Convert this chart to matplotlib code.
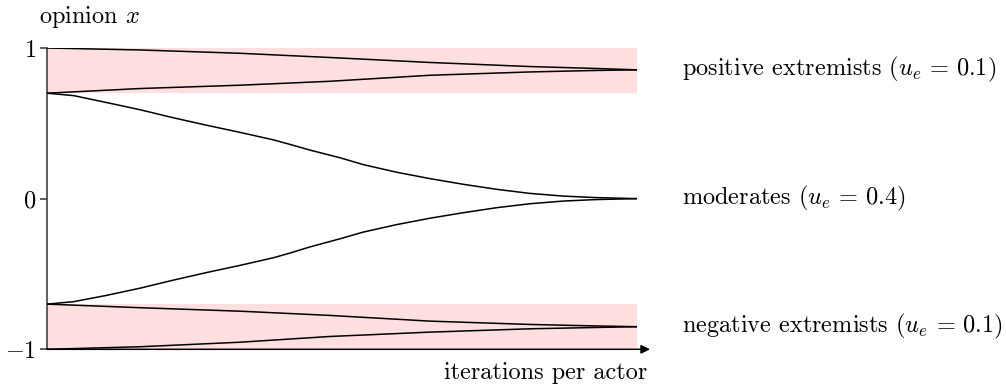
import numpy as np
import matplotlib
matplotlib.use("Agg")
import matplotlib.pyplot as plt

plt.rcParams["font.family"] = "serif"
plt.rcParams["font.serif"] = ["cmr10", "DejaVu Serif"]
plt.rcParams["mathtext.fontset"] = "cm"
plt.rcParams["axes.formatter.use_mathtext"] = True

# temps normalisé (itérations par acteur, échelle arbitraire)
t_mod = [0.0, 0.045, 0.101, 0.158, 0.214, 0.271, 0.327, 0.384, 0.412, 0.446,
         0.497, 0.536, 0.593, 0.649, 0.706, 0.762, 0.818, 0.875, 0.931, 1.0]
mod_hi = [0.70, 0.684, 0.638, 0.590, 0.537, 0.487, 0.440, 0.390, 0.360, 0.322,
          0.271, 0.226, 0.175, 0.133, 0.095, 0.062, 0.035, 0.017, 0.007, 0.0]
mod_lo = [-0.70, -0.684, -0.642, -0.594, -0.541, -0.490, -0.443, -0.392, -0.361, -0.320,
          -0.266, -0.222, -0.172, -0.130, -0.093, -0.060, -0.034, -0.016, -0.006, 0.0]

t_ext = [0.0, 0.158, 0.327, 0.479, 0.649, 0.818, 0.931, 1.0]
pos_hi = [1.0, 0.987, 0.965, 0.937, 0.904, 0.877, 0.864, 0.855]
pos_lo = [0.70, 0.731, 0.753, 0.779, 0.819, 0.841, 0.851, 0.855]
neg_hi = [-0.70, -0.724, -0.747, -0.775, -0.813, -0.835, -0.845, -0.850]
neg_lo = [-1.0, -0.983, -0.953, -0.915, -0.886, -0.864, -0.855, -0.850]

bands = [(0.7, 1.0), (-1.0, -0.7)]
labels = [(0.855, r"positive extremists ($u_e\,=\,0.1$)"),
          (0.0, r"moderates ($u_e\,=\,0.4$)"),
          (-0.850, r"negative extremists ($u_e\,=\,0.1$)")]

FS = 17.5

fig = plt.figure(figsize=(10.06, 3.87), dpi=100)
ax = fig.add_axes([47 / 1006, 37.7 / 387, 590 / 1006, 301.3 / 387])
ax.set_xlim(0, 1)
ax.set_ylim(-1, 1)

for lo, hi in bands:
    ax.axhspan(lo, hi, color="#ffdfdf", lw=0, zorder=0)

for t, y in [(t_mod, mod_hi), (t_mod, mod_lo), (t_ext, pos_hi), (t_ext, pos_lo),
             (t_ext, neg_hi), (t_ext, neg_lo)]:
    ax.plot(t, y, color="black", lw=1.1, zorder=3, solid_joinstyle="round")

for s in ["top", "right", "bottom"]:
    ax.spines[s].set_visible(False)
ax.spines["left"].set_color("#333333")
ax.spines["left"].set_linewidth(1.1)
ax.set_xticks([])
ax.set_yticks([-1, 0, 1])
ax.set_yticklabels([r"$-1$", r"$0$", r"$1$"], fontsize=FS)
ax.tick_params(axis="y", length=5, width=1.1, color="#333333", pad=3)

# axe horizontal fléché
ax.annotate("", xy=(1.022, -1), xytext=(0, -1), xycoords="data",
            arrowprops=dict(arrowstyle="-|>", color="black", lw=1.1,
                            mutation_scale=13, shrinkA=0, shrinkB=0),
            annotation_clip=False, zorder=4)

for y, txt in labels:
    ax.text(1.076, y, txt, fontsize=FS, va="center", ha="left",
            transform=ax.get_yaxis_transform())

fig.text(39 / 1006, 1 - 17 / 387, r"opinion $x$", fontsize=FS, va="center", ha="left")
fig.text(647 / 1006, 1 - 373 / 387, "iterations per actor", fontsize=FS,
         va="center", ha="right")

fig.savefig("out.png", dpi=100)
